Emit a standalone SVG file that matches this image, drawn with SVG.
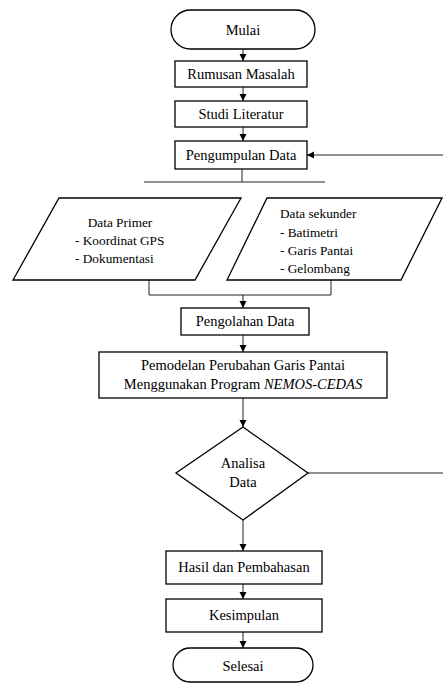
<svg xmlns="http://www.w3.org/2000/svg" width="443" height="684" viewBox="0 0 443 684" font-family="Liberation Serif, Times New Roman, serif">
<defs>
<marker id="ah" markerWidth="8" markerHeight="8" refX="7" refY="4" orient="auto" markerUnits="userSpaceOnUse">
<path d="M0,0.5 L7,4 L0,7.5 Z" fill="#000"/>
</marker>
</defs>
<style>
.n{fill:#fff;stroke:#000;stroke-width:1.3}
.t{font-size:14.5px;fill:#000;text-anchor:middle}
.s{font-size:13.3px;fill:#000}
.c{fill:none;stroke:#222;stroke-width:1}
.a{marker-end:url(#ah)}
</style>
<rect width="443" height="684" fill="#fff"/>
<g id="connectors">
<line class="c a" x1="243" y1="49" x2="243" y2="61"/>
<line class="c a" x1="243" y1="87" x2="243" y2="101"/>
<line class="c a" x1="243" y1="127" x2="243" y2="141"/>
<path class="c" d="M242,169 V182 M144,182 H325"/>
<path class="c" d="M149,280 V295 H331 V280"/>
<line class="c a" x1="243" y1="295" x2="243" y2="308"/>
<line class="c a" x1="243" y1="335" x2="243" y2="352"/>
<line class="c a" x1="243" y1="398" x2="243" y2="427"/>
<line class="c a" x1="243" y1="520" x2="243" y2="551"/>
<line class="c a" x1="243" y1="584" x2="243" y2="599"/>
<line class="c a" x1="243" y1="632" x2="243" y2="648"/>
<path class="c a" d="M308,473 H447 V155 H307"/>
</g>
<g id="mulai">
<rect class="n" x="171" y="10" width="144" height="39" rx="19.5"/>
<text class="t" x="243" y="35">Mulai</text>
</g>
<g id="rumusan">
<rect class="n" x="175" y="61" width="132" height="26"/>
<text class="t" x="241" y="79">Rumusan Masalah</text>
</g>
<g id="studi">
<rect class="n" x="175" y="101" width="132" height="26"/>
<text class="t" x="241" y="119">Studi Literatur</text>
</g>
<g id="pengumpulan">
<rect class="n" x="175" y="141" width="132" height="28"/>
<text class="t" x="241" y="160">Pengumpulan Data</text>
</g>
<g id="primer">
<polygon class="n" points="59,198 241,198 195,280 13,280"/>
<text class="t" x="120" y="227" style="font-size:13.3px">Data Primer</text>
<text class="s" x="75" y="245">- Koordinat GPS</text>
<text class="s" x="75" y="263">- Dokumentasi</text>
</g>
<g id="sekunder">
<polygon class="n" points="267,198 442,198 401,280 227,280"/>
<text class="s" x="280" y="218">Data sekunder</text>
<text class="s" x="280" y="237">- Batimetri</text>
<text class="s" x="280" y="255">- Garis Pantai</text>
<text class="s" x="280" y="273">- Gelombang</text>
</g>
<g id="pengolahan">
<rect class="n" x="181" y="308" width="128" height="27"/>
<text class="t" x="245" y="326">Pengolahan Data</text>
</g>
<g id="pemodelan">
<rect class="n" x="99" y="352" width="288" height="46"/>
<text class="t" x="243" y="370">Pemodelan Perubahan Garis Pantai</text>
<text class="t" x="243" y="389">Menggunakan Program <tspan font-style="italic">NEMOS-CEDAS</tspan></text>
</g>
<g id="analisa">
<polygon class="n" points="243,427 308,473 243,520 176,473"/>
<text class="t" x="243" y="468">Analisa</text>
<text class="t" x="243" y="487">Data</text>
</g>
<g id="hasil">
<rect class="n" x="166" y="551" width="156" height="33"/>
<text class="t" x="244" y="572">Hasil dan Pembahasan</text>
</g>
<g id="kesimpulan">
<rect class="n" x="166" y="599" width="156" height="33"/>
<text class="t" x="244" y="620">Kesimpulan</text>
</g>
<g id="selesai">
<rect class="n" x="173" y="648" width="140" height="34" rx="17"/>
<text class="t" x="243" y="671">Selesai</text>
</g>
</svg>
